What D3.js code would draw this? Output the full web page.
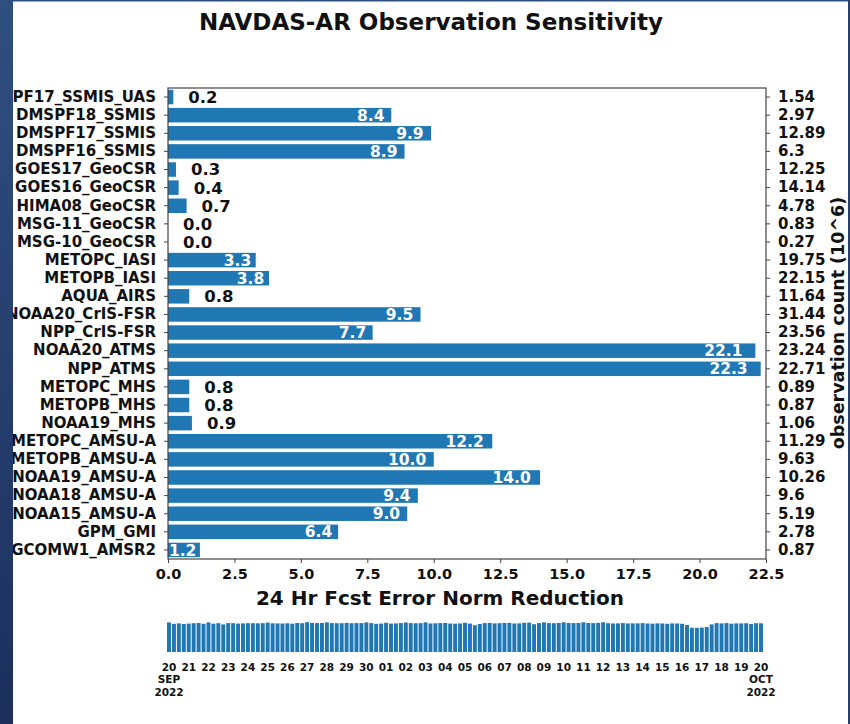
<!DOCTYPE html>
<html>
<head>
<meta charset="utf-8">
<script src="https://cdn.jsdelivr.net/npm/d3@7"></script>
<style>
    body { margin: 0; background: #ffffff; }
    svg text { font-family: "DejaVu Sans", sans-serif; font-weight: bold; }
</style>
</head>
<body>
<svg id="chart" width="850" height="724"></svg>
<script>

/* Instruments, top to bottom as drawn */
var instruments = [
    "DMSPF17_SSMIS_UAS", "DMSPF18_SSMIS", "DMSPF17_SSMIS", "DMSPF16_SSMIS",
    "GOES17_GeoCSR", "GOES16_GeoCSR", "HIMA08_GeoCSR", "MSG-11_GeoCSR", "MSG-10_GeoCSR",
    "METOPC_IASI", "METOPB_IASI", "AQUA_AIRS", "NOAA20_CrIS-FSR", "NPP_CrIS-FSR",
    "NOAA20_ATMS", "NPP_ATMS", "METOPC_MHS", "METOPB_MHS", "NOAA19_MHS",
    "METOPC_AMSU-A", "METOPB_AMSU-A", "NOAA19_AMSU-A", "NOAA18_AMSU-A", "NOAA15_AMSU-A",
    "GPM_GMI", "GCOMW1_AMSR2"
];

/* 24 Hr forecast error norm reduction */
var reduction = [
    0.2, 8.4, 9.9, 8.9,
    0.3, 0.4, 0.7, 0.0, 0.0,
    3.3, 3.8, 0.8, 9.5, 7.7,
    22.1, 22.3, 0.8, 0.8, 0.9,
    12.2, 10.0, 14.0, 9.4, 9.0,
    6.4, 1.2
];

/* observation count (10^6) */
var obsCount = [
    "1.54", "2.97", "12.89", "6.3",
    "12.25", "14.14", "4.78", "0.83", "0.27",
    "19.75", "22.15", "11.64", "31.44", "23.56",
    "23.24", "22.71", "0.89", "0.87", "1.06",
    "11.29", "9.63", "10.26", "9.6", "5.19",
    "2.78", "0.87"
];

var xTicks = [0, 2.5, 5, 7.5, 10, 12.5, 15, 17.5, 20, 22.5];

/* per-cycle counts for the strip below, 6 hourly, 20 Sep 00Z .. 20 Oct 00Z */
var cycleCounts = [
    29.6, 28.2, 28.6, 28.0,  28.4, 28.8, 29.0, 28.2,  29.6, 28.3, 28.8, 27.6,
    28.9, 28.8, 28.4, 28.6,  28.8, 28.8, 28.7, 28.8,  29.4, 28.7, 28.6, 28.5,
    28.7, 28.3, 29.0, 28.8,  29.8, 29.2, 28.9, 29.0,  29.6, 28.9, 28.8, 28.8,
    29.1, 28.8, 28.9, 28.9,  29.6, 28.9, 28.2, 28.4,  29.2, 28.4, 28.6, 28.9,
    29.5, 28.9, 28.8, 28.8,  29.6, 28.5, 28.7, 28.9,  29.0, 28.4, 28.3, 28.5,
    29.2, 28.4, 26.8, 28.0,  28.9, 29.0, 28.6, 28.8,  29.0, 29.1, 28.5, 28.6,
    29.2, 29.4, 27.8, 28.9,  29.6, 28.9, 28.8, 29.0,  29.7, 29.0, 28.9, 29.0,
    29.7, 29.0, 28.9, 29.1,  29.7, 28.8, 28.5, 28.6,  28.9, 28.6, 28.6, 28.6,
    28.9, 28.5, 28.3, 28.6,  28.5, 28.2, 28.6, 28.5,  28.2, 27.0, 24.3, 24.2,
    24.4, 25.0, 27.6, 28.9,  28.6, 28.9, 28.3, 28.6,  28.6, 28.8, 28.0, 28.8,
    28.7
];

var startDate = new Date(2022, 8, 20);
var endDate = new Date(2022, 9, 20);

var svg = d3.select("#chart");

var frame = {left: 168, right: 766, top: 88, bottom: 559};

/* white slide area */
svg.append("rect")
    .attr("x", 0).attr("y", 0).attr("width", 850).attr("height", 724)
    .attr("fill", "#ffffff");

/* title */
svg.append("text")
    .attr("x", 431)
    .attr("y", 30)
    .attr("text-anchor", "middle")
    .style("font-size", "23px")
    .attr("fill", "#111")
    .text("NAVDAS-AR Observation Sensitivity");

var x = d3.scaleLinear()
    .domain([0, 22.5])
    .range([frame.left, frame.right]);

var y = d3.scaleBand()
    .domain(instruments)
    .range([frame.top, frame.bottom])
    .paddingInner(0.2)
    .paddingOuter(0.1);

var countOf = {};
instruments.forEach(function (d, i) {
    countOf[d] = obsCount[i];
});

var rows = instruments.map(function (d, i) {
    return {name: d, value: reduction[i]};
});

/* bars */
svg.append("g")
    .selectAll("rect")
    .data(rows)
    .enter().append("rect")
    .attr("x", x(0))
    .attr("y", function (d) { return y(d.name); })
    .attr("width", function (d) { return x(d.value) - x(0); })
    .attr("height", y.bandwidth())
    .attr("fill", "#1f77b4");

/* value labels: inside in white when the bar is long enough, otherwise outside */
svg.append("g")
    .selectAll("text")
    .data(rows)
    .enter().append("text")
    .attr("x", function (d) {
        return d.value >= 1 ? x(d.value) - (3 + d.value * 0.45) : x(d.value) + 15;
    })
    .attr("y", function (d) { return y(d.name) + y.bandwidth() / 2; })
    .attr("dy", "0.36em")
    .attr("text-anchor", function (d) { return d.value >= 1 ? "end" : "start"; })
    .attr("fill", function (d) { return d.value >= 1 ? "#ffffff" : "#111"; })
    .style("font-size", function (d) { return d.value >= 1 ? "15.5px" : "16.5px"; })
    .text(function (d) { return d.value.toFixed(1); });

/* axes */
var xAxis = svg.append("g")
    .attr("transform", "translate(0," + frame.bottom + ")")
    .call(d3.axisBottom(x).tickValues(xTicks).tickFormat(d3.format(".1f")).tickSize(4).tickSizeOuter(0).tickPadding(6));

var leftAxis = svg.append("g")
    .attr("transform", "translate(" + frame.left + ",0)")
    .call(d3.axisLeft(y).tickSize(4).tickSizeOuter(0).tickPadding(8));

var rightAxis = svg.append("g")
    .attr("transform", "translate(" + frame.right + ",0)")
    .call(d3.axisRight(y).tickSize(4).tickSizeOuter(0).tickPadding(8)
        .tickFormat(function (d) { return countOf[d]; }));

[xAxis, leftAxis, rightAxis].forEach(function (a) {
    a.select(".domain").remove();
    a.selectAll(".tick line").attr("stroke", "#444");
    a.selectAll(".tick text")
        .attr("fill", "#111")
        .style("font-size", a === xAxis ? "14.5px" : "15px")
        .style("font-family", "DejaVu Sans")
        .style("font-weight", "bold");
});

/* frame */
svg.append("rect")
    .attr("x", frame.left)
    .attr("y", frame.top)
    .attr("width", frame.right - frame.left)
    .attr("height", frame.bottom - frame.top)
    .attr("fill", "none")
    .attr("stroke", "#444")
    .attr("stroke-width", 1.2);

/* axis titles */
svg.append("text")
    .attr("x", 440)
    .attr("y", 605)
    .attr("text-anchor", "middle")
    .style("font-size", "20px")
    .attr("fill", "#111")
    .text("24 Hr Fcst Error Norm Reduction");

svg.append("text")
    .attr("transform", "translate(844,323) rotate(-90)")
    .attr("text-anchor", "middle")
    .style("font-size", "17.5px")
    .attr("fill", "#111")
    .text("observation count (10^6)");

/* strip of per-cycle counts */
var cycles = cycleCounts.map(function (v, i) {
    return {date: d3.timeHour.offset(startDate, i * 6), value: v};
});

var xt = d3.scaleTime()
    .domain([startDate, endDate])
    .range([169, 761]);

var yt = d3.scaleLinear()
    .domain([0, 30])
    .range([652, 622]);

var barW = (xt(d3.timeHour.offset(startDate, 6)) - xt(startDate)) * 0.8;

svg.append("g")
    .selectAll("rect")
    .data(cycles)
    .enter().append("rect")
    .attr("x", function (d) { return xt(d.date) - barW / 2; })
    .attr("y", function (d) { return yt(d.value); })
    .attr("width", barW)
    .attr("height", function (d) { return yt(0) - yt(d.value); })
    .attr("fill", "#1f77b4");

var days = d3.timeDay.range(startDate, d3.timeDay.offset(endDate, 1));

svg.append("g")
    .selectAll("text")
    .data(days)
    .enter().append("text")
    .attr("x", function (d) { return xt(d); })
    .attr("y", 670.5)
    .attr("text-anchor", "middle")
    .style("font-size", "10.5px")
    .attr("fill", "#111")
    .text(d3.timeFormat("%d"));

[startDate, endDate].forEach(function (d) {
    svg.append("text")
        .attr("x", xt(d)).attr("y", 683)
        .attr("text-anchor", "middle")
        .style("font-size", "10.5px")
        .attr("fill", "#111")
        .text(d3.timeFormat("%b")(d).toUpperCase());
    svg.append("text")
        .attr("x", xt(d)).attr("y", 695.5)
        .attr("text-anchor", "middle")
        .style("font-size", "10.5px")
        .attr("fill", "#111")
        .text(d3.timeFormat("%Y")(d));
});

/* slide edges */
var defs = svg.append("defs");
var grad = defs.append("linearGradient")
    .attr("id", "edge")
    .attr("x1", 0).attr("y1", 0).attr("x2", 0).attr("y2", 1);
grad.append("stop").attr("offset", "0%").attr("stop-color", "#2f4f80");
grad.append("stop").attr("offset", "100%").attr("stop-color", "#1c2f5d");

svg.append("rect")
    .attr("x", 0).attr("y", 0).attr("width", 13).attr("height", 724)
    .attr("fill", "url(#edge)");
svg.append("rect")
    .attr("x", 0).attr("y", 0).attr("width", 850).attr("height", 1.5)
    .attr("fill", "#2f4f80");
svg.append("rect")
    .attr("x", 848).attr("y", 0).attr("width", 2).attr("height", 724)
    .attr("fill", "#2a3d6c");

</script>
</body>
</html>
